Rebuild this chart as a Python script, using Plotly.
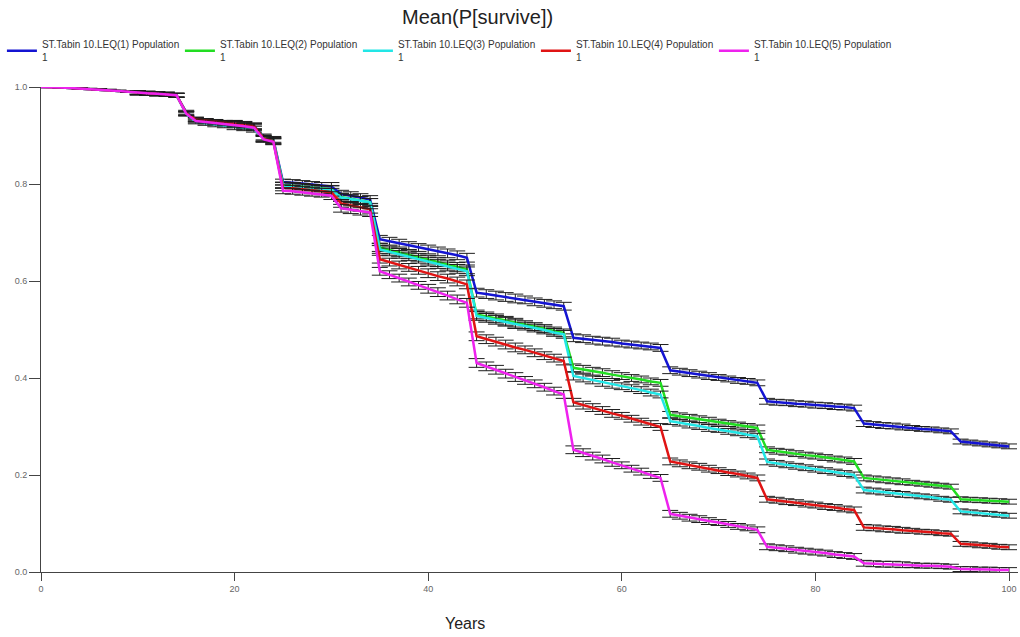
import plotly.graph_objects as go

years = list(range(0, 101))

early = [1.000, 1.000, 0.999, 0.998, 0.997, 0.996, 0.995, 0.994, 0.992, 0.990,
         0.988, 0.987, 0.986, 0.985, 0.983]

pop1 = early + [0.948, 0.934, 0.931, 0.929, 0.927, 0.925, 0.923, 0.920, 0.897, 0.892,
                0.804, 0.803, 0.801, 0.799, 0.797, 0.795, 0.779, 0.776, 0.772, 0.768,
                0.686, 0.682, 0.678, 0.673, 0.669, 0.665, 0.661, 0.657, 0.653, 0.648,
                0.576, 0.573, 0.570, 0.567, 0.564, 0.561, 0.557, 0.554, 0.551, 0.548,
                0.483, 0.481, 0.478, 0.476, 0.474, 0.471, 0.469, 0.467, 0.465, 0.462,
                0.416, 0.413, 0.410, 0.407, 0.404, 0.401, 0.398, 0.395, 0.393, 0.390,
                0.352, 0.350, 0.349, 0.347, 0.346, 0.344, 0.343, 0.341, 0.340, 0.338,
                0.306, 0.304, 0.302, 0.301, 0.299, 0.297, 0.295, 0.294, 0.292, 0.290,
                0.269, 0.267, 0.265, 0.263, 0.261, 0.259]

pop2 = early + [0.946, 0.932, 0.929, 0.927, 0.925, 0.923, 0.921, 0.918, 0.895, 0.890,
                0.798, 0.797, 0.795, 0.793, 0.791, 0.789, 0.773, 0.770, 0.766, 0.762,
                0.669, 0.664, 0.659, 0.654, 0.649, 0.644, 0.639, 0.634, 0.629, 0.624,
                0.531, 0.527, 0.523, 0.518, 0.514, 0.510, 0.506, 0.502, 0.497, 0.493,
                0.421, 0.418, 0.414, 0.411, 0.407, 0.404, 0.400, 0.397, 0.393, 0.390,
                0.324, 0.321, 0.318, 0.315, 0.312, 0.309, 0.306, 0.303, 0.300, 0.297,
                0.252, 0.249, 0.247, 0.244, 0.241, 0.239, 0.236, 0.233, 0.231, 0.228,
                0.194, 0.192, 0.190, 0.188, 0.186, 0.184, 0.182, 0.180, 0.178, 0.176,
                0.150, 0.149, 0.148, 0.147, 0.146, 0.145]

pop3 = early + [0.944, 0.928, 0.925, 0.922, 0.920, 0.918, 0.916, 0.913, 0.893, 0.889,
                0.797, 0.796, 0.794, 0.792, 0.790, 0.788, 0.772, 0.769, 0.766, 0.762,
                0.665, 0.660, 0.655, 0.650, 0.645, 0.640, 0.635, 0.630, 0.625, 0.620,
                0.528, 0.524, 0.520, 0.516, 0.511, 0.507, 0.503, 0.499, 0.494, 0.490,
                0.404, 0.400, 0.396, 0.391, 0.387, 0.383, 0.379, 0.375, 0.370, 0.366,
                0.311, 0.308, 0.304, 0.301, 0.297, 0.294, 0.290, 0.287, 0.283, 0.280,
                0.227, 0.224, 0.221, 0.218, 0.215, 0.212, 0.209, 0.206, 0.203, 0.200,
                0.169, 0.167, 0.165, 0.162, 0.160, 0.158, 0.156, 0.154, 0.151, 0.149,
                0.125, 0.123, 0.121, 0.120, 0.118, 0.116]

pop4 = early + [0.946, 0.933, 0.931, 0.929, 0.927, 0.925, 0.922, 0.919, 0.894, 0.888,
                0.792, 0.791, 0.789, 0.787, 0.785, 0.783, 0.760, 0.756, 0.752, 0.748,
                0.645, 0.639, 0.633, 0.628, 0.622, 0.616, 0.610, 0.605, 0.599, 0.593,
                0.486, 0.480, 0.475, 0.469, 0.463, 0.458, 0.452, 0.446, 0.441, 0.435,
                0.350, 0.344, 0.339, 0.333, 0.327, 0.322, 0.316, 0.310, 0.305, 0.299,
                0.228, 0.224, 0.220, 0.217, 0.213, 0.209, 0.205, 0.202, 0.198, 0.194,
                0.150, 0.148, 0.145, 0.143, 0.140, 0.138, 0.135, 0.133, 0.130, 0.128,
                0.092, 0.091, 0.089, 0.088, 0.086, 0.085, 0.083, 0.082, 0.080, 0.079,
                0.058, 0.057, 0.055, 0.054, 0.052, 0.051]

pop5 = early + [0.945, 0.930, 0.928, 0.926, 0.924, 0.922, 0.919, 0.916, 0.892, 0.887,
                0.786, 0.785, 0.783, 0.781, 0.779, 0.776, 0.750, 0.747, 0.744, 0.741,
                0.620, 0.613, 0.606, 0.598, 0.591, 0.584, 0.577, 0.570, 0.562, 0.555,
                0.431, 0.424, 0.417, 0.409, 0.402, 0.395, 0.388, 0.381, 0.373, 0.366,
                0.252, 0.246, 0.239, 0.233, 0.226, 0.220, 0.213, 0.207, 0.200, 0.194,
                0.120, 0.116, 0.112, 0.109, 0.105, 0.102, 0.098, 0.094, 0.091, 0.087,
                0.052, 0.050, 0.048, 0.045, 0.043, 0.041, 0.039, 0.036, 0.034, 0.032,
                0.018, 0.017, 0.016, 0.016, 0.015, 0.014, 0.013, 0.013, 0.012, 0.011,
                0.006, 0.006, 0.005, 0.005, 0.004, 0.004]

# error half-size per decade (0-9, 10-19, ..., 100)
err_by_decade = [0.001, 0.004, 0.006, 0.008, 0.009, 0.008, 0.007, 0.006, 0.006, 0.005, 0.005]
err = [err_by_decade[y // 10] for y in years]

names = ["ST.Tabin 10.LEQ(1) Population<br>1",
         "ST.Tabin 10.LEQ(2) Population<br>1",
         "ST.Tabin 10.LEQ(3) Population<br>1",
         "ST.Tabin 10.LEQ(4) Population<br>1",
         "ST.Tabin 10.LEQ(5) Population<br>1"]
colors = ["#1414d2", "#22dd22", "#22e6e6", "#e01414", "#ee22ee"]
series = [pop1, pop2, pop3, pop4, pop5]

x_ticks = [0, 20, 40, 60, 80, 100]
y_ticks = [0.0, 0.2, 0.4, 0.6, 0.8, 1.0]

fig = go.Figure()
for name, col, vals in zip(names, colors, series):
    fig.add_trace(go.Scatter(
        x=years, y=vals, mode="lines", name=name,
        line=dict(color=col, width=2.5),
        error_y=dict(type="data", array=err, visible=True, color="#1e1e1e",
                     thickness=1, width=8),
    ))

axis_col = "#444444"
fig.update_layout(
    width=1020, height=637,
    paper_bgcolor="white", plot_bgcolor="white",
    margin=dict(l=41, r=2, t=87, b=65),
    font=dict(family="Liberation Sans, Arial, sans-serif", color="#444444"),
    showlegend=True,
    legend=dict(orientation="h", x=-0.040, xanchor="left", y=1.115, yanchor="top",
                font=dict(size=10, color="#333333"),
                entrywidth=133, entrywidthmode="pixels", itemwidth=30,
                bgcolor="rgba(0,0,0,0)", tracegroupgap=0),
    xaxis=dict(range=[0, 100.93], tickvals=x_ticks, ticks="outside", ticklen=8,
               tickcolor=axis_col, showline=True, linecolor=axis_col, linewidth=1,
               showgrid=False, zeroline=False,
               tickfont=dict(size=9, color="#666666")),
    yaxis=dict(range=[0, 1.0], tickvals=y_ticks, tickformat=".1f", ticks="outside",
               ticklen=11, tickcolor=axis_col, showline=True, linecolor=axis_col,
               linewidth=1, showgrid=False, zeroline=False,
               tickfont=dict(size=9, color="#666666")),
    xaxis2=dict(range=[0, 100.93], overlaying="x", anchor="y", side="bottom",
                tickvals=x_ticks, ticks="inside", ticklen=10, tickcolor=axis_col,
                showticklabels=False, showline=False, showgrid=False, zeroline=False),
    yaxis2=dict(range=[0, 1.0], overlaying="y", anchor="x", side="left",
                tickvals=y_ticks, ticks="inside", ticklen=12, tickcolor=axis_col,
                showticklabels=False, showline=False, showgrid=False, zeroline=False),
    annotations=[
        dict(text="Mean(P[survive])", x=477, y=17, xref="paper", yref="paper",
             xanchor="center", yanchor="middle",
             showarrow=False, font=dict(size=20, color="#222222")),
        dict(text="Years", x=465, y=623, xref="paper", yref="paper",
             xanchor="center", yanchor="middle",
             showarrow=False, font=dict(size=16, color="#222222")),
    ],
)

# convert annotation pixel positions to paper coords
pw = 1020 - 41 - 2
ph = 637 - 87 - 65
new_ann = []
for a in fig.layout.annotations:
    px, py = a.x, a.y
    a.x = (px - 41) / pw
    a.y = 1 - (py - 87) / ph
    new_ann.append(a)
fig.layout.annotations = new_ann

fig.write_html("out.html")
